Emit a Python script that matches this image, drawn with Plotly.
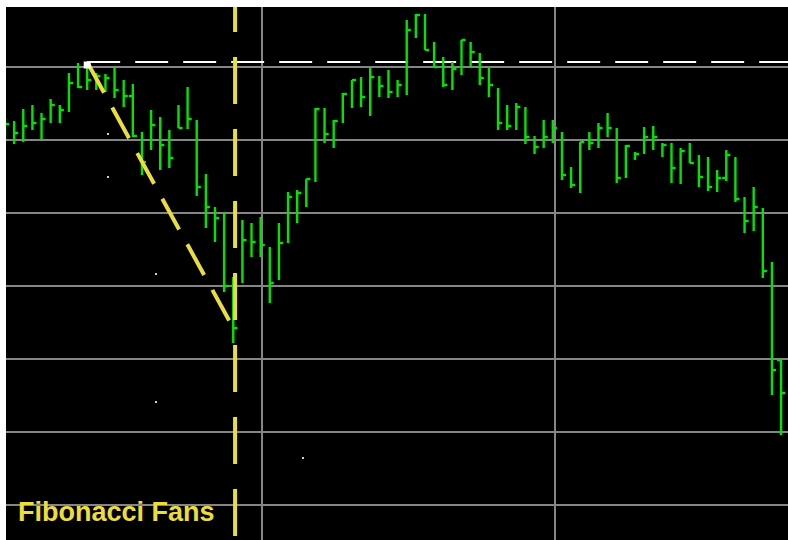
import plotly.graph_objects as go

# Daily bars (index, high, low, close); opens only where an open tick is drawn
bar_index = list(range(86))
high = [48.2, 47.9, 49.1, 49.5, 48.7, 50.1, 49.5, 52.7, 53.7, 53.8,
        52.7, 52.6, 53.2, 52.0, 51.6, 46.8, 49.0, 48.3, 47.0, 49.5,
        51.3, 48.0, 42.6, 39.3, 38.8, 32.3, 38.0, 37.7, 38.3, 35.3,
        37.7, 40.8, 41.0, 42.1, 49.2, 49.2, 48.0, 50.7, 52.0, 52.3,
        53.2, 52.4, 53.0, 52.0, 58.0, 58.6, 58.6, 55.8, 54.3, 53.8,
        56.0, 55.8, 54.7, 53.2, 51.2, 49.5, 49.7, 49.3, 46.4, 48.0,
        48.0, 46.8, 43.3, 45.8, 46.8, 47.7, 48.7, 47.2, 45.5, 44.8,
        47.3, 47.4, 45.7, 45.7, 45.2, 45.7, 44.5, 44.3, 43.0, 45.0,
        44.3, 40.3, 41.3, 39.2, 33.8, 24.0]
low = [46.0, 45.6, 45.8, 47.0, 46.1, 47.7, 47.7, 48.8, 51.2, 51.0,
       51.0, 50.8, 50.2, 49.3, 46.3, 42.5, 45.0, 43.0, 43.2, 47.2,
       47.1, 40.4, 37.2, 35.8, 30.8, 25.7, 31.7, 34.3, 34.3, 29.7,
       32.0, 35.7, 37.7, 39.3, 41.8, 45.7, 45.2, 47.7, 49.2, 49.3,
       48.4, 50.3, 50.2, 50.3, 50.5, 56.2, 55.0, 53.3, 51.3, 51.0,
       52.5, 53.3, 51.5, 50.3, 47.0, 47.0, 47.0, 45.6, 44.6, 45.2,
       45.7, 42.0, 41.2, 40.7, 45.0, 45.2, 46.3, 41.7, 42.2, 44.0,
       44.6, 45.0, 44.3, 41.7, 41.6, 43.7, 41.3, 40.9, 40.8, 41.9,
       39.8, 36.7, 36.9, 32.2, 20.5, 16.5]
close = [47.6, 46.7, 47.4, 47.7, 48.1, 49.5, 49.0, 51.7, 51.3, 52.0,
         52.4, 52.2, 51.0, 50.4, 46.4, 43.8, 47.5, 45.5, 44.2, 47.2,
         48.1, 41.3, 39.3, 38.2, 31.4, 27.2, 36.0, 35.8, 35.5, 31.7,
         35.7, 40.3, 40.7, 42.1, 49.1, 46.6, 47.9, 50.6, 52.0, 50.3,
         52.3, 51.4, 50.8, 51.5, 57.0, 58.5, 55.0, 53.3, 51.5, 53.1,
         56.0, 54.8, 52.2, 51.5, 47.7, 47.4, 49.3, 46.3, 45.3, 46.3,
         47.2, 42.5, 41.5, 45.8, 45.7, 47.2, 47.2, 42.2, 45.4, 44.6,
         46.3, 46.3, 45.5, 43.2, 44.9, 43.7, 42.3, 41.3, 42.2, 44.5,
         40.1, 37.9, 39.3, 32.9, 23.0, 20.7]
open_marks = {14: 50.4, 79: 42.2, 85: 24.0}

# Fibonacci fan: anchored at the swing high, drawn to the swing low bar
fan_start = 9
fan_end = 25
fan_time_line = 25.2

# Stray chart points
dot_x = [11.28, 11.28, 16.54, 16.54, 32.64]
dot_y = [46.6, 42.3, 32.6, 19.8, 14.2]

x_range = [0.11, 85.76]
y_range = [6.0, 59.3]
grid_x = [28.15, 60.24]

tick = 0.45
bar_x, bar_y = [], []
for i, h, l, c in zip(bar_index, high, low, close):
    bar_x += [i, i, None, i, i + tick, None]
    bar_y += [h, l, None, c, c, None]
for i, o in open_marks.items():
    bar_x += [i - tick, i, None]
    bar_y += [o, o, None]

GREEN = "#00E400"
YELLOW = "#EBDD3A"

fig = go.Figure()

# Horizontal level from the fan anchor
fig.add_trace(go.Scatter(
    x=[fan_start, x_range[1]], y=[high[fan_start], high[fan_start]],
    mode="lines", line=dict(color="white", width=2, dash="33px,15px"),
    hoverinfo="skip"))

fig.add_trace(go.Scatter(
    x=bar_x, y=bar_y, mode="lines",
    line=dict(color=GREEN, width=2.4), hoverinfo="skip"))

fig.add_trace(go.Scatter(
    x=dot_x, y=dot_y, mode="markers",
    marker=dict(color="#D0D0D0", size=2, symbol="square"),
    hoverinfo="skip"))

# Fan trend line and vertical time line
fig.add_trace(go.Scatter(
    x=[fan_start, fan_end], y=[high[fan_start], close[fan_end]],
    mode="lines", line=dict(color=YELLOW, width=4, dash="35px,17px"),
    hoverinfo="skip"))
fig.add_trace(go.Scatter(
    x=[fan_time_line, fan_time_line], y=[y_range[1] + 2.2, y_range[0]],
    mode="lines", line=dict(color=YELLOW, width=4, dash="47px,25px"),
    hoverinfo="skip"))

fig.add_trace(go.Scatter(
    x=[fan_start], y=[high[fan_start] - 0.3], mode="markers",
    marker=dict(color="white", size=7, symbol="square"),
    hoverinfo="skip"))

fig.add_annotation(
    text="Fibonacci Fans", xref="paper", yref="paper",
    x=0.0128, y=0.0525, xanchor="left", yanchor="middle",
    showarrow=False,
    font=dict(family="Liberation Sans, Arial", size=27, color=YELLOW,
              weight="bold"))

fig.update_layout(
    width=788, height=540,
    margin=dict(l=6, r=0, t=7, b=0),
    paper_bgcolor="white", plot_bgcolor="black",
    showlegend=False,
    xaxis=dict(range=x_range, tickmode="array", tickvals=grid_x,
               showticklabels=False, ticks="", showgrid=True,
               gridcolor="#858585", gridwidth=2, zeroline=False,
               showline=False, fixedrange=True),
    yaxis=dict(range=y_range, tickmode="linear", tick0=9.5, dtick=7.3,
               showticklabels=False, ticks="", showgrid=True,
               gridcolor="#858585", gridwidth=2, zeroline=False,
               showline=False, fixedrange=True),
)

fig.write_html("out.html")
